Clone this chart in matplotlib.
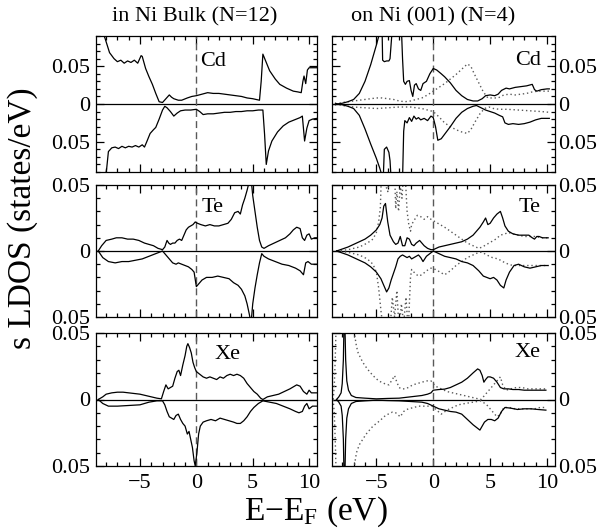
import matplotlib
matplotlib.use("Agg")
import matplotlib.pyplot as plt
from matplotlib.ticker import MultipleLocator, FuncFormatter

plt.rcParams['font.family'] = ['Liberation Serif', 'DejaVu Serif']
plt.rcParams['mathtext.fontset'] = 'custom'
plt.rcParams['mathtext.rm'] = 'Liberation Serif'
plt.rcParams['mathtext.it'] = 'Liberation Serif:italic'

# ---- data: s-LDOS of impurities (up > 0, down < 0) ----
col_titles = ["in Ni Bulk (N=12)", "on Ni (001) (N=4)"]
elements = ["Cd", "Te", "Xe"]
x_ticks = [-5, 0, 5, 10]

# Cd in bulk
cd_bulk_up_e = [-8.3, -8.1, -7.7, -7.3, -7.0, -6.7, -6.4, -6.1, -5.8, -5.5, -5.2, -4.9, -4.8, -4.5, -4.2, -3.9,
                -3.6, -3.3, -3.0, -2.7, -2.4, -2.2, -2.0, -1.6, -1.3, -0.8, -0.4, 0.0, 0.5, 1.0, 1.5, 2.0, 2.5,
                3.0, 3.5, 4.0, 4.5, 5.0, 5.6, 5.75, 5.9, 6.2, 6.5, 7.0, 7.4, 8.0, 8.6, 9.0, 9.3, 9.45, 9.55,
                9.7, 9.85, 10.0, 10.3, 10.7]
cd_bulk_up_v = [0.095, 0.087, 0.068, 0.060, 0.056, 0.058, 0.054, 0.057, 0.055, 0.058, 0.054, 0.064, 0.063, 0.047,
                0.036, 0.026, 0.014, 0.003, 0.002, 0.007, 0.012, 0.009, 0.007, 0.005, 0.005, 0.008, 0.010, 0.011,
                0.013, 0.015, 0.014, 0.014, 0.013, 0.012, 0.011, 0.010, 0.008, 0.007, 0.005, 0.030, 0.066, 0.055,
                0.044, 0.033, 0.026, 0.021, 0.017, 0.016, 0.015, 0.030, 0.037, 0.027, 0.045, 0.048, 0.048, 0.048]
cd_bulk_dn_e = [-8.1, -7.95, -7.8, -7.5, -7.2, -6.9, -6.6, -6.3, -6.0, -5.7, -5.4, -5.1, -4.8, -4.6, -4.4, -4.1,
                -3.8, -3.6, -3.3, -3.0, -2.8, -2.6, -2.3, -2.0, -1.7, -1.4, -1.0, -0.5, 0.0, 0.3, 0.6, 1.0, 1.5,
                2.0, 2.5, 3.0, 3.5, 4.0, 4.5, 5.0, 5.5, 5.9, 6.05, 6.2, 6.4, 6.7, 7.2, 7.7, 8.2, 8.7, 9.2, 9.4,
                9.6, 9.8, 10.0, 10.3, 10.7]
cd_bulk_dn_v = [-0.10, -0.085, -0.063, -0.058, -0.057, -0.059, -0.056, -0.058, -0.056, -0.057, -0.055, -0.057,
                -0.054, -0.057, -0.050, -0.039, -0.034, -0.031, -0.020, -0.008, -0.003, -0.005, -0.010, -0.016,
                -0.012, -0.009, -0.008, -0.008, -0.007, -0.010, -0.014, -0.013, -0.013, -0.012, -0.011, -0.011,
                -0.010, -0.010, -0.009, -0.009, -0.008, -0.008, -0.040, -0.080, -0.062, -0.049, -0.037, -0.029,
                -0.024, -0.021, -0.018, -0.016, -0.049, -0.032, -0.022, -0.020, -0.019]

# Te in bulk
te_bulk_up_e = [-8.7, -8.4, -8.0, -7.5, -7.1, -6.6, -6.1, -5.6, -5.1, -4.6, -4.2, -3.8, -3.4, -3.0, -2.8, -2.6,
                -2.45, -2.3, -2.1, -1.9, -1.7, -1.5, -1.3, -1.1, -0.9, -0.7, -0.5, -0.3, -0.1, 0.1, 0.4, 0.8,
                1.2, 1.6, 2.0, 2.4, 2.8, 3.1, 3.4, 3.7, 3.9, 4.1, 4.3, 4.5, 4.7, 4.85, 5.0, 5.2, 5.4, 5.6, 5.8,
                6.0, 6.4, 6.9, 7.4, 7.9, 8.3, 8.6, 8.9, 9.2, 9.4, 9.6, 9.8, 10.0, 10.2, 10.5, 10.7]
te_bulk_up_v = [0.0, 0.004, 0.008, 0.009, 0.010, 0.010, 0.009, 0.009, 0.008, 0.006, 0.005, 0.004, 0.002, 0.001,
                0.003, 0.008, 0.006, 0.005, 0.006, 0.006, 0.008, 0.009, 0.008, 0.012, 0.016, 0.018, 0.019, 0.020,
                0.022, 0.021, 0.020, 0.019, 0.020, 0.019, 0.019, 0.020, 0.021, 0.024, 0.029, 0.030, 0.028, 0.035,
                0.040, 0.046, 0.053, 0.055, 0.042, 0.030, 0.018, 0.008, 0.003, 0.002, 0.004, 0.006, 0.008, 0.010,
                0.013, 0.016, 0.018, 0.017, 0.010, 0.008, 0.012, 0.013, 0.009, 0.010, 0.010]
te_bulk_dn_e = [-8.7, -8.3, -7.8, -7.2, -6.6, -6.0, -5.4, -4.8, -4.2, -3.6, -3.0, -2.8, -2.6, -2.3, -2.1, -1.8,
                -1.6, -1.3, -1.0, -0.7, -0.4, -0.2, 0.0, 0.2, 0.5, 0.9, 1.4, 1.9, 2.4, 2.9, 3.3, 3.7, 4.0, 4.3,
                4.5, 4.7, 4.85, 5.0, 5.2, 5.4, 5.6, 5.8, 6.0, 6.4, 7.0, 7.6, 8.2, 8.8, 9.2, 9.5, 9.7, 9.9, 10.2,
                10.7]
te_bulk_dn_v = [0.0, -0.005, -0.008, -0.009, -0.008, -0.008, -0.007, -0.006, -0.004, -0.002, 0.0, -0.002,
                -0.004, -0.007, -0.009, -0.010, -0.009, -0.010, -0.011, -0.012, -0.014, -0.016, -0.027, -0.025,
                -0.022, -0.020, -0.020, -0.019, -0.020, -0.021, -0.024, -0.026, -0.029, -0.034, -0.040, -0.048,
                -0.055, -0.040, -0.028, -0.018, -0.009, -0.002, -0.004, -0.006, -0.008, -0.010, -0.011, -0.013,
                -0.015, -0.018, -0.009, -0.008, -0.010, -0.010]

# Xe in bulk
xe_bulk_up_e = [-8.7, -8.3, -8.0, -7.5, -7.0, -6.5, -6.0, -5.5, -5.0, -4.5, -4.0, -3.5, -3.1, -2.9, -2.7, -2.5,
                -2.3, -2.1, -1.9, -1.7, -1.55, -1.4, -1.2, -1.0, -0.85, -0.75, -0.6, -0.45, -0.3, -0.15, 0.0, 0.3,
                0.6, 0.9, 1.2, 1.5, 1.8, 2.1, 2.4, 2.7, 3.0, 3.3, 3.6, 3.9, 4.2, 4.5, 4.8, 5.1, 5.4, 5.7, 5.9,
                6.3, 6.8, 7.3, 7.8, 8.3, 8.7, 8.9, 9.2, 9.5, 9.8, 10.0, 10.2, 10.5, 10.7]
xe_bulk_up_v = [0.0, 0.002, 0.004, 0.005, 0.0055, 0.0055, 0.005, 0.0045, 0.004, 0.003, 0.002, 0.001, 0.0005,
                0.006, 0.011, 0.008, 0.009, 0.010, 0.016, 0.021, 0.022, 0.018, 0.026, 0.033, 0.040, 0.042, 0.039,
                0.035, 0.028, 0.024, 0.021, 0.019, 0.017, 0.016, 0.017, 0.016, 0.015, 0.017, 0.016, 0.018, 0.019,
                0.018, 0.019, 0.018, 0.016, 0.012, 0.009, 0.006, 0.004, 0.001, 0.0, 0.002, 0.003, 0.004, 0.006,
                0.008, 0.010, 0.011, 0.010, 0.006, 0.004, 0.007, 0.005, 0.005, 0.005]
xe_bulk_dn_e = [-8.7, -8.3, -7.8, -7.0, -6.0, -5.0, -4.2, -3.5, -3.0, -2.8, -2.6, -2.4, -2.2, -2.0, -1.8, -1.6,
                -1.4, -1.2, -1.0, -0.8, -0.65, -0.5, -0.35, -0.2, -0.1, 0.05, 0.2, 0.35, 0.6, 0.9, 1.3, 1.7, 2.1,
                2.5, 2.9, 3.3, 3.6, 3.9, 4.2, 4.5, 4.8, 5.1, 5.5, 5.9, 6.5, 7.1, 7.7, 8.3, 8.8, 9.1, 9.4, 9.6, 9.8,
                10.0, 10.3, 10.7]
xe_bulk_dn_v = [0.0, -0.003, -0.005, -0.005, -0.0045, -0.004, -0.002, -0.001, -0.001, -0.004, -0.009, -0.013,
                -0.014, -0.015, -0.012, -0.011, -0.015, -0.018, -0.020, -0.026, -0.024, -0.030, -0.036, -0.046,
                -0.050, -0.040, -0.026, -0.020, -0.017, -0.016, -0.015, -0.016, -0.014, -0.015, -0.016, -0.017,
                -0.018, -0.018, -0.016, -0.013, -0.009, -0.006, -0.003, -0.001, -0.002, -0.003, -0.005, -0.007,
                -0.009, -0.010, -0.009, -0.005, -0.003, -0.007, -0.005, -0.005]

# Cd on surface (solid and dotted)
cd_surf_up_e = [-8.6, -8.4, -8.0, -7.5, -7.0, -6.5, -6.0, -5.5, -5.0, -4.7, -4.5, -4.45, -4.3, -4.1, -3.9, -3.8,
                -3.6, -3.3, -3.0, -2.8, -2.7, -2.6, -2.45, -2.3, -2.1, -1.95, -1.8, -1.65, -1.5, -1.3, -1.1,
                -0.9, -0.6, -0.3, 0.0, 0.3, 0.7, 1.0, 1.5, 2.0, 2.5, 3.0, 3.5, 3.9, 4.3, 4.6, 5.0, 5.4, 5.7, 6.0,
                6.4, 6.7, 7.2, 7.7, 8.2, 8.7, 8.9, 9.1, 9.5, 10.0, 10.2]
cd_surf_up_v = [0.001, 0.0, 0.001, 0.003, 0.006, 0.014, 0.030, 0.052, 0.078, 0.095, 0.10, 0.058, 0.056, 0.057,
                0.057, 0.060, 0.10, 0.10, 0.10, 0.10, 0.06, 0.030, 0.026, 0.030, 0.031, 0.018, 0.010, 0.025,
                0.027, 0.020, 0.018, 0.027, 0.030, 0.040, 0.047, 0.045, 0.040, 0.036, 0.028, 0.018, 0.011, 0.006,
                0.004, 0.004, 0.007, 0.011, 0.012, 0.011, 0.013, 0.018, 0.021, 0.020, 0.022, 0.023, 0.024, 0.026,
                0.019, 0.017, 0.019, 0.020, 0.020]
cd_surf_dn_e = [-8.6, -8.4, -8.0, -7.5, -7.0, -6.5, -6.0, -5.5, -5.0, -4.7, -4.4, -4.3, -4.1, -3.9, -3.8, -3.7,
                -3.3, -3.0, -2.7, -2.6, -2.5, -2.3, -2.1, -1.9, -1.7, -1.5, -1.3, -1.1, -0.8, -0.5, -0.2, 0.0,
                0.2, 0.4, 0.7, 1.0, 1.5, 2.0, 2.5, 3.0, 3.5, 3.8, 4.2, 4.6, 5.0, 5.4, 5.8, 6.1, 6.3, 6.6, 7.0,
                7.5, 8.0, 8.5, 9.0, 9.5, 10.2]
cd_surf_dn_v = [-0.001, 0.0, -0.001, -0.003, -0.006, -0.015, -0.033, -0.053, -0.072, -0.085, -0.10, -0.060,
                -0.057, -0.064, -0.075, -0.10, -0.10, -0.10, -0.10, -0.036, -0.022, -0.025, -0.018, -0.023,
                -0.016, -0.020, -0.018, -0.021, -0.019, -0.022, -0.016, -0.018, -0.030, -0.048, -0.046, -0.040,
                -0.030, -0.019, -0.011, -0.006, -0.003, -0.002, -0.005, -0.008, -0.010, -0.012, -0.015, -0.017,
                -0.025, -0.027, -0.026, -0.027, -0.026, -0.024, -0.021, -0.019, -0.019]
cd_surf_dot_up_e = [-8.6, -8.0, -7.0, -6.0, -5.0, -4.5, -4.0, -3.5, -3.0, -2.5, -2.0, -1.5, -1.0, -0.5, 0.0, 0.5,
                    1.0, 1.5, 2.0, 2.5, 3.0, 3.3, 3.6, 4.0, 4.4, 4.8, 5.2, 5.7, 6.2, 6.7, 7.2, 7.7, 8.2, 8.7, 9.2,
                    9.7, 10.2]
cd_surf_dot_up_v = [0.0, 0.002, 0.004, 0.006, 0.008, 0.008, 0.007, 0.006, 0.004, 0.003, 0.004, 0.006, 0.008,
                    0.012, 0.017, 0.022, 0.027, 0.033, 0.039, 0.046, 0.053, 0.050, 0.040, 0.028, 0.016, 0.008,
                    0.008, 0.008, 0.012, 0.013, 0.012, 0.013, 0.014, 0.016, 0.017, 0.017, 0.017]
cd_surf_dot_dn_e = [-8.6, -8.0, -7.0, -6.0, -5.0, -4.0, -3.0, -2.0, -1.0, -0.5, 0.0, 0.5, 1.0, 1.5, 2.0, 2.5,
                    3.0, 3.3, 3.7, 4.1, 4.5, 4.9, 5.3, 5.8, 6.5, 7.5, 8.5, 9.5, 10.2]
cd_surf_dot_dn_v = [0.0, -0.002, -0.004, -0.005, -0.006, -0.005, -0.004, -0.004, -0.006, -0.008, -0.010,
                    -0.017, -0.025, -0.030, -0.034, -0.037, -0.039, -0.034, -0.023, -0.013, -0.006, -0.004,
                    -0.006, -0.007, -0.007, -0.008, -0.009, -0.010, -0.011]

# Te on surface
te_surf_up_e = [-8.5, -8.0, -7.5, -7.0, -6.5, -6.0, -5.5, -5.0, -4.7, -4.5, -4.35, -4.2, -4.0, -3.8, -3.5, -3.3,
                -3.1, -2.9, -2.7, -2.5, -2.3, -2.1, -1.9, -1.7, -1.5, -1.2, -1.0, -0.8, -0.5, -0.2, 0.0, 0.5, 1.0,
                1.5, 2.0, 2.5, 3.0, 3.5, 3.8, 4.1, 4.4, 4.6, 4.8, 5.0, 5.3, 5.6, 5.9, 6.1, 6.3, 6.6, 7.0, 7.5,
                8.0, 8.4, 8.7, 8.9, 9.1, 9.3, 9.6, 10.1]
te_surf_up_v = [0.0, 0.0015, 0.003, 0.005, 0.007, 0.009, 0.012, 0.016, 0.020, 0.025, 0.034, 0.036, 0.022, 0.012,
                0.007, 0.005, 0.006, 0.011, 0.004, 0.004, 0.010, 0.009, 0.005, 0.004, 0.006, 0.008, 0.006, 0.004,
                0.002, 0.001, 0.001, 0.003, 0.004, 0.005, 0.006, 0.007, 0.009, 0.012, 0.015, 0.018, 0.022, 0.025,
                0.020, 0.021, 0.025, 0.028, 0.030, 0.025, 0.019, 0.015, 0.013, 0.012, 0.012, 0.012, 0.010, 0.009,
                0.011, 0.011, 0.010, 0.010]
te_surf_dn_e = [-8.5, -8.0, -7.5, -7.0, -6.5, -6.0, -5.5, -5.0, -4.6, -4.3, -4.1, -3.9, -3.7, -3.5, -3.3, -3.1,
                -2.9, -2.7, -2.5, -2.3, -2.1, -1.9, -1.7, -1.5, -1.3, -1.1, -0.9, -0.6, -0.3, 0.0, 0.5, 1.0, 1.5,
                2.0, 2.5, 3.0, 3.5, 4.0, 4.4, 4.7, 5.0, 5.3, 5.6, 5.9, 6.2, 6.4, 6.7, 7.1, 7.5, 8.0, 8.5, 9.0,
                9.5, 10.1]
te_surf_dn_v = [0.0, -0.0015, -0.003, -0.005, -0.007, -0.009, -0.012, -0.016, -0.021, -0.027, -0.031, -0.028,
                -0.022, -0.017, -0.012, -0.006, -0.004, -0.003, -0.004, -0.005, -0.004, -0.006, -0.005, -0.004,
                -0.003, -0.005, -0.008, -0.004, -0.002, 0.0, -0.002, -0.004, -0.005, -0.006, -0.008, -0.009,
                -0.011, -0.015, -0.019, -0.020, -0.021, -0.020, -0.022, -0.026, -0.028, -0.022, -0.016, -0.011,
                -0.010, -0.012, -0.013, -0.012, -0.011, -0.011]
te_surf_dot_up_e = [-8.5, -7.5, -6.5, -5.8, -5.3, -5.0, -4.8, -4.65, -4.55, -4.4, -4.2, -4.0, -3.8, -3.6, -3.4,
                    -3.3, -3.2, -3.05, -2.9, -2.75, -2.6, -2.45, -2.3, -2.15, -2.0, -1.9, -1.7, -1.4, -1.1, -0.8,
                    -0.5, -0.2, 0.2, 0.6, 1.0, 1.5, 2.0, 2.5, 3.0, 3.5, 4.0, 4.3, 4.7, 5.1, 5.5, 5.9, 6.3, 6.6,
                    7.0, 7.5, 8.0, 8.5, 9.0, 9.5, 10.1]
te_surf_dot_up_v = [0.0, 0.001, 0.003, 0.006, 0.009, 0.014, 0.022, 0.033, 0.060, 0.060, 0.050, 0.045, 0.060,
                    0.060, 0.060, 0.032, 0.045, 0.030, 0.050, 0.040, 0.060, 0.055, 0.030, 0.020, 0.015, 0.020,
                    0.023, 0.027, 0.026, 0.024, 0.026, 0.024, 0.022, 0.020, 0.018, 0.015, 0.012, 0.009, 0.006,
                    0.004, 0.002, 0.003, 0.005, 0.007, 0.009, 0.012, 0.013, 0.014, 0.013, 0.012, 0.011, 0.011,
                    0.011, 0.010, 0.010]
te_surf_dot_dn_e = [-8.5, -7.5, -6.5, -5.8, -5.3, -5.0, -4.8, -4.6, -4.4, -4.2, -4.0, -3.8, -3.6, -3.4, -3.2,
                    -3.0, -2.8, -2.6, -2.4, -2.2, -2.0, -1.9, -1.6, -1.3, -1.0, -0.6, -0.2, 0.2, 0.6, 1.0, 1.5,
                    2.0, 2.5, 3.0, 3.5, 4.0, 4.3, 4.7, 5.2, 5.7, 6.1, 6.6, 7.0, 7.5, 8.0, 8.5, 9.0, 9.5, 10.1]
te_surf_dot_dn_v = [0.0, -0.001, -0.003, -0.006, -0.010, -0.016, -0.028, -0.045, -0.060, -0.060, -0.050,
                    -0.060, -0.035, -0.050, -0.030, -0.060, -0.040, -0.055, -0.035, -0.060, -0.020, -0.014,
                    -0.017, -0.019, -0.018, -0.015, -0.013, -0.014, -0.016, -0.018, -0.015, -0.011, -0.008,
                    -0.005, -0.003, -0.001, -0.001, -0.003, -0.005, -0.006, -0.008, -0.010, -0.011, -0.011,
                    -0.011, -0.011, -0.011, -0.011, -0.011]

# Xe on surface
xe_surf_up_e = [-8.5, -8.3, -8.1, -8.0, -7.9, -7.85, -7.8, -7.75, -7.7, -7.6, -7.45, -7.2, -6.8, -6.0, -5.0, -4.0,
                -3.0, -2.0, -1.5, -1.0, -0.5, -0.2, 0.0, 0.5, 1.0, 1.5, 2.0, 2.5, 3.0, 3.5, 3.9, 4.1, 4.3, 4.45,
                4.6, 4.8, 5.0, 5.3, 5.6, 5.9, 6.2, 6.6, 7.0, 7.5, 8.0, 8.5, 9.0, 9.5, 9.9]
xe_surf_up_v = [0.0, 0.002, 0.005, 0.012, 0.030, 0.055, 0.065, 0.050, 0.030, 0.014, 0.007, 0.003, 0.0015, 0.001,
                0.0005, 0.0008, 0.001, 0.002, 0.0025, 0.003, 0.004, 0.005, 0.007, 0.0075, 0.0078, 0.009, 0.011,
                0.013, 0.016, 0.020, 0.023, 0.022, 0.018, 0.013, 0.015, 0.017, 0.017, 0.016, 0.013, 0.009, 0.008,
                0.008, 0.0075, 0.0075, 0.007, 0.007, 0.007, 0.007, 0.007]
xe_surf_dn_e = [-8.5, -8.3, -8.1, -8.0, -7.9, -7.85, -7.8, -7.75, -7.7, -7.6, -7.45, -7.2, -6.8, -6.0, -5.0, -4.0,
                -3.0, -2.0, -1.0, -0.5, 0.0, 0.5, 1.0, 1.5, 2.0, 2.5, 3.0, 3.5, 4.1, 4.3, 4.5, 4.8, 5.1, 5.4, 5.7,
                6.0, 6.3, 6.8, 7.4, 8.0, 8.6, 9.2, 9.9]
xe_surf_dn_v = [0.0, -0.002, -0.005, -0.012, -0.030, -0.055, -0.065, -0.050, -0.030, -0.014, -0.007, -0.003,
                -0.0015, -0.001, -0.0005, -0.0008, -0.001, -0.0015, -0.002, -0.003, -0.005, -0.007, -0.008,
                -0.009, -0.0095, -0.011, -0.015, -0.019, -0.023, -0.020, -0.017, -0.015, -0.015, -0.016, -0.014,
                -0.009, -0.006, -0.0065, -0.0075, -0.007, -0.007, -0.0075, -0.008]
xe_surf_dot_up_e = [-8.8, -8.7, -8.6, -8.5, -8.0, -7.5, -7.0, -6.9, -6.75, -6.6, -6.2, -5.8, -5.3, -4.8, -4.3,
                    -3.9, -3.6, -3.4, -3.2, -3.0, -2.8, -2.5, -2.2, -1.8, -1.4, -1.0, -0.6, -0.2, 0.2, 0.7, 1.2,
                    1.7, 2.2, 2.7, 3.2, 3.7, 4.2, 4.6, 5.0, 5.4, 5.7, 5.9, 6.1, 6.4, 6.8, 7.3, 7.8, 8.3, 8.8,
                    9.3, 9.9]
xe_surf_dot_up_v = [0.0, 0.01, 0.035, 0.07, 0.10, 0.09, 0.06, 0.048, 0.040, 0.035, 0.028, 0.023, 0.018, 0.014,
                    0.012, 0.011, 0.015, 0.018, 0.013, 0.009, 0.008, 0.008, 0.009, 0.011, 0.012, 0.013, 0.014,
                    0.014, 0.010, 0.008, 0.006, 0.005, 0.004, 0.003, 0.002, 0.001, 0.0, 0.004, 0.008, 0.012,
                    0.015, 0.017, 0.011, 0.007, 0.008, 0.009, 0.009, 0.008, 0.008, 0.008, 0.008]
xe_surf_dot_dn_e = [-8.8, -8.7, -8.6, -8.5, -8.0, -7.5, -7.0, -6.9, -6.75, -6.5, -6.2, -5.9, -5.3, -4.7, -4.2,
                    -3.6, -3.3, -2.9, -2.6, -2.2, -1.7, -1.3, -0.7, -0.1, 0.3, 0.7, 1.2, 1.7, 2.2, 2.8, 3.5, 4.2,
                    4.7, 5.2, 5.6, 5.9, 6.2, 6.7, 7.2, 7.7, 8.3, 8.9, 9.4, 9.9]
xe_surf_dot_dn_v = [0.0, -0.01, -0.035, -0.07, -0.10, -0.09, -0.06, -0.048, -0.040, -0.034, -0.030, -0.026,
                    -0.020, -0.016, -0.012, -0.0095, -0.010, -0.013, -0.009, -0.007, -0.006, -0.005, -0.005,
                    -0.005, -0.008, -0.011, -0.008, -0.006, -0.004, -0.003, -0.002, -0.001, -0.004, -0.009,
                    -0.013, -0.011, -0.006, -0.006, -0.007, -0.007, -0.007, -0.007, -0.006, -0.006]

y_limits = [0.09, 0.05, 0.05]

bulk_solid = [
    [(cd_bulk_up_e, cd_bulk_up_v), (cd_bulk_dn_e, cd_bulk_dn_v)],
    [(te_bulk_up_e, te_bulk_up_v), (te_bulk_dn_e, te_bulk_dn_v)],
    [(xe_bulk_up_e, xe_bulk_up_v), (xe_bulk_dn_e, xe_bulk_dn_v)],
]
surf_solid = [
    [(cd_surf_up_e, cd_surf_up_v), (cd_surf_dn_e, cd_surf_dn_v)],
    [(te_surf_up_e, te_surf_up_v), (te_surf_dn_e, te_surf_dn_v)],
    [(xe_surf_up_e, xe_surf_up_v), (xe_surf_dn_e, xe_surf_dn_v)],
]
surf_dotted = [
    [(cd_surf_dot_up_e, cd_surf_dot_up_v), (cd_surf_dot_dn_e, cd_surf_dot_dn_v)],
    [(te_surf_dot_up_e, te_surf_dot_up_v), (te_surf_dot_dn_e, te_surf_dot_dn_v)],
    [(xe_surf_dot_up_e, xe_surf_dot_up_v), (xe_surf_dot_dn_e, xe_surf_dot_dn_v)],
]

W, H = 610, 529
fig = plt.figure(figsize=(W / 100, H / 100), dpi=100)

col_x = [(96, 317), (332, 555)]
row_y = [(36, 172), (185, 317), (333, 466)]

# label spots: left column in data coords, right column in axes fraction
left_label_pos = [(0.3, 0.056), (0.5, 0.033), (1.6, 0.034)]
right_label_pos = [(0.935, 0.82), (0.935, 0.826), (0.935, 0.855)]

def abs_fmt(v, pos):
    if abs(v) < 1e-9:
        return "0"
    return "%.2f" % abs(v)

for r in range(3):
    for c in range(2):
        x0, x1 = col_x[c]
        y0, y1 = row_y[r]
        ax = fig.add_axes([x0 / W, 1 - y1 / H, (x1 - x0) / W, (y1 - y0) / H])
        ax.set_xlim(-8.9, 10.7)
        ax.set_ylim(-y_limits[r], y_limits[r])

        ax.axhline(0, color="black", lw=0.9)
        ax.axvline(0, color="0.35", lw=1.0, dashes=(5, 3))

        if c == 0:
            for e, v in bulk_solid[r]:
                ax.plot(e, v, color="black", lw=0.9)
        else:
            for e, v in surf_dotted[r]:
                ax.plot(e, v, color="0.35", lw=1.0, dashes=(1, 2))
            for e, v in surf_solid[r]:
                ax.plot(e, v, color="black", lw=0.9)

        ax.set_xticks(x_ticks)
        ax.xaxis.set_minor_locator(MultipleLocator(1))
        ax.yaxis.set_major_locator(MultipleLocator(0.05))
        ax.yaxis.set_minor_locator(MultipleLocator(0.01))
        ax.yaxis.set_major_formatter(FuncFormatter(abs_fmt))
        ax.tick_params(which="both", direction="in", top=True, right=True, width=0.9,
                       labelsize=16, pad=4)
        ax.tick_params(which="major", length=6)
        ax.tick_params(which="minor", length=3)
        ax.tick_params(axis="x", pad=6)
        if r < 2:
            ax.tick_params(axis="x", labelbottom=False)
        if c == 1:
            ax.tick_params(axis="y", labelleft=False, labelright=True, pad=2)
        for s in ax.spines.values():
            s.set_linewidth(0.9)

        if c == 0:
            lx, ly = left_label_pos[r]
            ax.text(lx, ly, elements[r], fontsize=16, ha="left", va="center")
        else:
            lx, ly = right_label_pos[r]
            ax.text(lx, ly, elements[r], transform=ax.transAxes, fontsize=16,
                    ha="right", va="center")

fig.text(195 / W, 1 - 17 / H, col_titles[0], fontsize=16, ha="center", va="center")
fig.text(433 / W, 1 - 17 / H, col_titles[1], fontsize=16, ha="center", va="center")
fig.text(23 / W, 1 - 218 / H, "s LDOS (states/eV)", fontsize=24, rotation=90,
         ha="center", va="center")
fig.text(316 / W, 1 - 512 / H, "E\u2212E$_{\\mathrm{F}}$ (eV)", fontsize=24,
         ha="center", va="center")

fig.savefig("out.png", dpi=100)
